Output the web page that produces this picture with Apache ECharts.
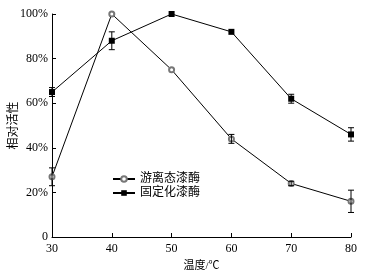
<!DOCTYPE html>
<html>
<head>
<meta charset="utf-8">
<script src="https://cdn.jsdelivr.net/npm/echarts@6/dist/echarts.min.js"></script>
<style>
html,body{margin:0;padding:0;background:#fff;}
#chart{width:378px;height:277px;}
</style>
</head>
<body>
<div id="chart"></div>
<script>
var temps = [30, 40, 50, 60, 70, 80];
var freeVals = [27, 100, 75, 44, 24, 16];
var freeErr = [4, 0, 0, 2, 1, 5];
var fixedVals = [65, 88, 100, 92, 62, 46];
var fixedErr = [2, 4, 0, 0, 2, 3];
var yTicks = [0, 20, 40, 60, 80, 100];

var font = '"Liberation Serif","Noto Sans CJK SC",serif';

function pairs(vals) {
    return temps.map(function (t, i) { return [t, vals[i]]; });
}
function errData(vals, errs) {
    return temps.map(function (t, i) { return [t, vals[i] - errs[i], vals[i] + errs[i]]; });
}
function errItem(params, api) {
    var x = api.value(0);
    var lo = api.coord([x, api.value(1)]);
    var hi = api.coord([x, api.value(2)]);
    if (Math.abs(lo[1] - hi[1]) < 1) return null;
    var st = {stroke: '#000', lineWidth: 1};
    return {
        type: 'group',
        children: [
            {type: 'line', shape: {x1: lo[0], y1: lo[1], x2: hi[0], y2: hi[1]}, style: st},
            {type: 'line', shape: {x1: lo[0] - 3, y1: lo[1], x2: lo[0] + 3, y2: lo[1]}, style: st},
            {type: 'line', shape: {x1: hi[0] - 3, y1: hi[1], x2: hi[0] + 3, y2: hi[1]}, style: st}
        ]
    };
}

var myChart = echarts.init(document.getElementById('chart'));
var option = {
    animation: false,
    textStyle: {fontFamily: font},
    grid: {left: 52, right: 27, top: 14, bottom: 40, containLabel: false, outerBoundsMode: 'none'},
    legend: {
        left: 107,
        top: 168,
        orient: 'vertical',
        itemGap: 2,
        itemWidth: 22,
        itemHeight: 7,
        textStyle: {fontFamily: font, fontSize: 12, color: '#000'},
        data: ['游离态漆酶', '固定化漆酶']
    },
    xAxis: {
        type: 'value',
        min: 30, max: 80, interval: 10,
        name: '温度/℃',
        nameLocation: 'middle',
        nameGap: 24,
        nameMoveOverlap: false,
        nameTextStyle: {fontFamily: font, fontSize: 11, color: '#000'},
        axisLine: {lineStyle: {color: '#000', width: 1}},
        axisTick: {inside: true, length: 4, lineStyle: {color: '#000'}},
        axisLabel: {color: '#000', fontSize: 12, margin: 6, fontFamily: font},
        splitLine: {show: false}
    },
    yAxis: {
        type: 'value',
        min: 0, max: 100, interval: 20,
        name: '相对活性',
        nameLocation: 'middle',
        nameGap: 32,
        nameRotate: 90,
        nameMoveOverlap: false,
        nameTextStyle: {fontFamily: font, fontSize: 12, color: '#000'},
        axisLine: {show: true, lineStyle: {color: '#000', width: 1}},
        axisTick: {show: true, inside: true, length: 4, lineStyle: {color: '#000'}},
        axisLabel: {
            color: '#000', fontSize: 12, margin: 4, fontFamily: font,
            formatter: function (v) { return yTicks.indexOf(v) === 0 ? '0' : v + '%'; }
        },
        splitLine: {show: false}
    },
    series: [
        {
            name: '游离态漆酶',
            type: 'line',
            data: pairs(freeVals),
            symbol: 'emptyCircle',
            symbolSize: 5,
            lineStyle: {color: '#000', width: 1},
            itemStyle: {color: '#777', borderWidth: 1},
            z: 3
        },
        {
            name: '固定化漆酶',
            type: 'line',
            data: pairs(fixedVals),
            symbol: 'rect',
            symbolSize: 6,
            lineStyle: {color: '#000', width: 1},
            itemStyle: {color: '#000'},
            z: 3
        },
        {
            type: 'custom',
            renderItem: errItem,
            data: errData(freeVals, freeErr),
            encode: {x: 0, y: [1, 2]},
            z: 4
        },
        {
            type: 'custom',
            renderItem: errItem,
            data: errData(fixedVals, fixedErr),
            encode: {x: 0, y: [1, 2]},
            z: 4
        }
    ]
};
myChart.setOption(option);
</script>
</body>
</html>
